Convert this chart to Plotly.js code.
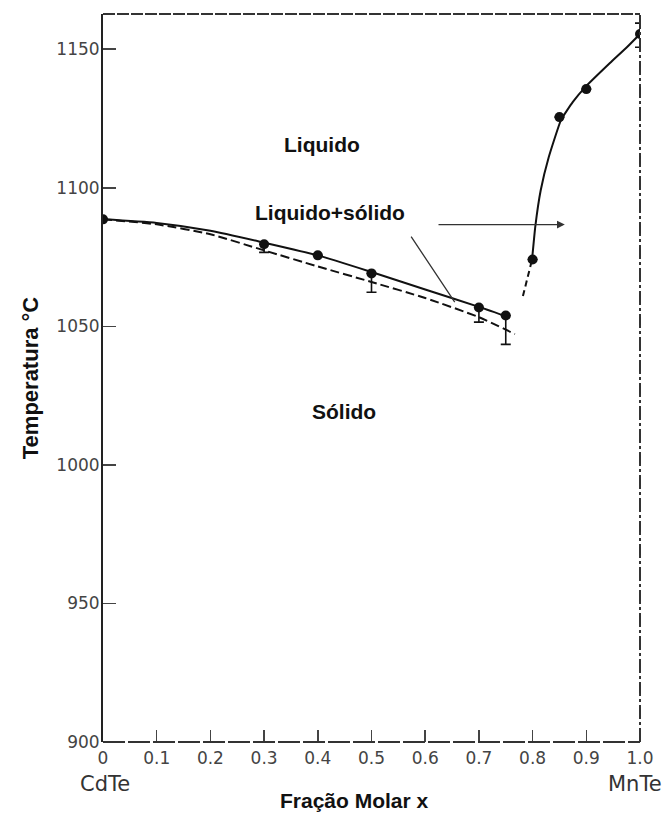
<!DOCTYPE html>
<html><head><meta charset="utf-8">
<script src="https://cdn.plot.ly/plotly-3.0.1.min.js"></script>
<style>html,body{margin:0;padding:0;background:#fff;}</style>
</head><body><div id="chart" style="width:668px;height:816px;"></div>
<script>
// measured points (x = molar fraction of MnTe, T in °C)
const pointX = [0, 0.3, 0.4, 0.5, 0.7, 0.75, 0.8, 0.85, 0.9, 1.0];
const pointT = [1088.6, 1079.6, 1075.6, 1069.1, 1056.8, 1053.9, 1074.1, 1125.5, 1135.6, 1155.5];
const errPlus  = [0, 0, 0, 0, 0, 0, 0, 0, 0, 3.9];
const errMinus = [0, 2.9, 0, 6.8, 5.3, 10.4, 0, 0, 0, 4.8];
// liquidus (solid) and solidus (dashed) on the CdTe side
const liquidusX = [0, 0.1, 0.2, 0.3, 0.4, 0.5, 0.6, 0.7, 0.758];
const liquidusT = [1088.6, 1087.3, 1084.5, 1080.2, 1075.6, 1069.6, 1063.3, 1057.0, 1053.1];
const solidusX = [0, 0.1, 0.2, 0.3, 0.4, 0.5, 0.6, 0.7, 0.767];
const solidusT = [1088.6, 1086.8, 1083.2, 1077.4, 1071.6, 1066.0, 1060.2, 1053.3, 1047.2];
// MnTe-side branch
const mnDashX = [0.782, 0.799];
const mnDashT = [1060.9, 1074.1];
const mnX = [0.799, 0.805, 0.815, 0.83, 0.853, 0.875, 0.899, 0.944, 0.976, 1.0];
const mnT = [1074.1, 1086.0, 1099.0, 1111.0, 1124.5, 1131.0, 1136.5, 1145.0, 1150.8, 1155.5];
// axis ticks
const xTickVals = [0, 0.1, 0.2, 0.3, 0.4, 0.5, 0.6, 0.7, 0.8, 0.9, 1.0];
const xTickText = ['0', '0.1', '0.2', '0.3', '0.4', '0.5', '0.6', '0.7', '0.8', '0.9', '1.0'];
const yTickVals = [900, 950, 1000, 1050, 1100, 1150];
const yTickText = ['900', '950', '1000', '1050', '1100', '1150'];
// labels
const regionLabels = ['Liquido', 'Liquido+sólido', 'Sólido'];
const regionX = [0.408, 0.423, 0.449];
const regionT = [1115.7, 1091.1, 1019.2];
const xTitle = 'Fração Molar x';
const yTitle = 'Temperatura °C';

const ink = '#111';
const traces = [
  {x: liquidusX, y: liquidusT, mode: 'lines', line: {color: ink, width: 2, shape: 'spline', smoothing: 0.6}, hoverinfo: 'skip'},
  {x: solidusX, y: solidusT, mode: 'lines', line: {color: ink, width: 2, dash: '9px,4px', shape: 'spline', smoothing: 0.6}, hoverinfo: 'skip'},
  {x: mnDashX, y: mnDashT, mode: 'lines', line: {color: ink, width: 2, dash: '6px,4px'}, hoverinfo: 'skip'},
  {x: mnX, y: mnT, mode: 'lines', line: {color: ink, width: 2, shape: 'spline', smoothing: 0.4}, hoverinfo: 'skip'},
  {x: pointX, y: pointT, mode: 'markers', marker: {color: ink, size: 10},
   error_y: {type: 'data', symmetric: false, array: errPlus, arrayminus: errMinus, color: ink, thickness: 1.6, width: 5}}
];

const font = 'Liberation Sans, Arial, sans-serif';
const annotations = regionLabels.map((t, i) => ({
  text: '<b>' + t + '</b>', x: regionX[i], y: regionT[i], xref: 'x', yref: 'y',
  showarrow: false, font: {family: font, size: 21, color: ink}, xanchor: 'center', yanchor: 'middle'
}));
annotations.push(
  {text: '', x: 0.860, y: 1086.7, ax: 0.622, ay: 1086.7, xref: 'x', yref: 'y', axref: 'x', ayref: 'y',
   showarrow: true, arrowhead: 2, arrowsize: 1.2, arrowwidth: 1.3, arrowcolor: '#333'},
  {text: '', x: 0.655, y: 1058.7, ax: 0.572, ay: 1082.9, xref: 'x', yref: 'y', axref: 'x', ayref: 'y',
   showarrow: true, arrowhead: 0, arrowwidth: 1.3, arrowcolor: '#333'},
  {text: 'CdTe', x: 0.004, y: -0.058, xref: 'x', yref: 'paper', showarrow: false,
   font: {family: 'DejaVu Sans', size: 21, color: '#333'}, xanchor: 'center', yanchor: 'middle'},
  {text: 'MnTe', x: 0.99, y: -0.058, xref: 'x', yref: 'paper', showarrow: false,
   font: {family: 'DejaVu Sans', size: 21, color: '#333'}, xanchor: 'center', yanchor: 'middle'},
  {text: '<b>' + xTitle + '</b>', x: 0.469, y: -0.080, xref: 'paper', yref: 'paper', showarrow: false,
   font: {family: font, size: 21, color: ink}, xanchor: 'center', yanchor: 'middle'}
);

const frame = '#333';
const shapes = [
  {type: 'line', xref: 'paper', yref: 'paper', x0: 0, x1: 1, y0: 1, y1: 1, line: {color: frame, width: 1.8, dash: '12px,2px'}},
  {type: 'line', xref: 'paper', yref: 'paper', x0: 1, x1: 1, y0: 0, y1: 1, line: {color: frame, width: 2, dash: '14px,3px,3px,3px'}},
  {type: 'line', xref: 'paper', yref: 'paper', x0: 0, x1: 1, y0: 0, y1: 0, line: {color: frame, width: 2, dash: '22px,3px'}}
];

const layout = {
  width: 668, height: 816,
  margin: {l: 103, r: 28, t: 14, b: 74, pad: 0},
  paper_bgcolor: '#fff', plot_bgcolor: '#fff',
  showlegend: false,
  xaxis: {
    range: [0, 1], tickvals: xTickVals, ticktext: xTickText,
    ticks: 'inside', ticklen: 12, tickwidth: 1.5, tickcolor: '#444', ticklabelstandoff: 4,
    showgrid: false, zeroline: false, showline: false,
    tickfont: {family: 'DejaVu Sans', size: 17, color: '#444'}
  },
  yaxis: {
    range: [900, 1162.7], tickvals: yTickVals, ticktext: yTickText,
    ticks: 'inside', ticklen: 13, tickwidth: 1.5, tickcolor: '#444', ticklabelstandoff: -2,
    showgrid: false, zeroline: false, showline: true, linecolor: '#222', linewidth: 2,
    tickfont: {family: 'DejaVu Sans', size: 17, color: '#444'},
    title: {text: '<b>' + yTitle + '</b>', font: {family: font, size: 22, color: ink}, standoff: 12}
  },
  annotations: annotations,
  shapes: shapes
};

Plotly.newPlot('chart', traces, layout, {displayModeBar: false, staticPlot: true});
</script>
</body></html>
